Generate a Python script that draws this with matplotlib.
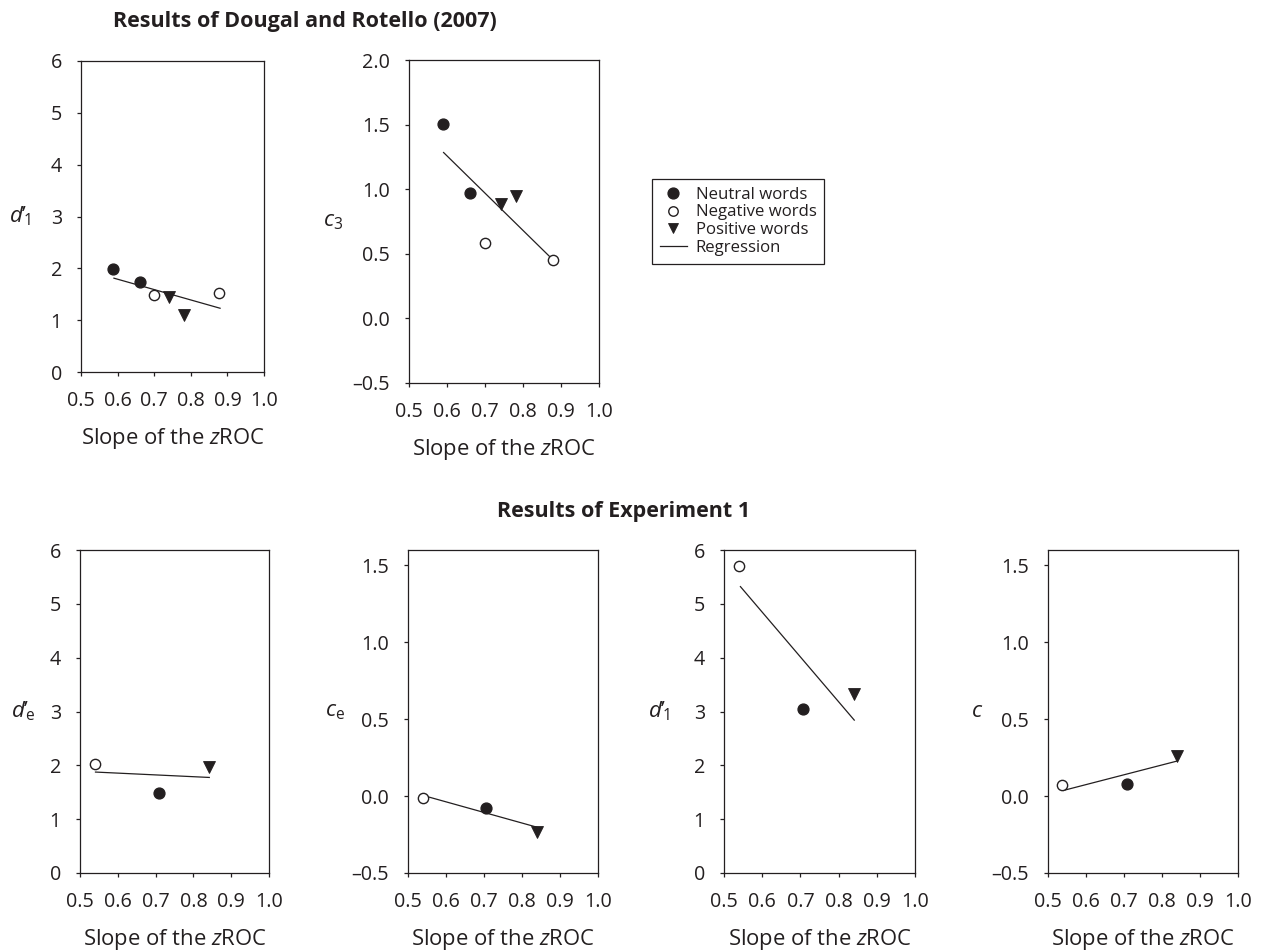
import matplotlib
matplotlib.use("Agg")
import matplotlib.pyplot as plt
from matplotlib.lines import Line2D
from matplotlib.ticker import FixedLocator, FuncFormatter

# ---------------- data ----------------
# Dougal & Rotello (2007): d'1 panel
p1_neutral_x = [0.588, 0.661]
p1_neutral_y = [1.99, 1.74]
p1_negative_x = [0.699, 0.878]
p1_negative_y = [1.48, 1.52]
p1_positive_x = [0.740, 0.781]
p1_positive_y = [1.44, 1.10]
p1_reg_x = [0.590, 0.880]
p1_reg_y = [1.81, 1.23]

# Dougal & Rotello (2007): c3 panel
p2_neutral_x = [0.589, 0.661]
p2_neutral_y = [1.505, 0.974]
p2_negative_x = [0.699, 0.880]
p2_negative_y = [0.585, 0.454]
p2_positive_x = [0.741, 0.782]
p2_positive_y = [0.885, 0.951]
p2_reg_x = [0.591, 0.878]
p2_reg_y = [1.284, 0.456]

# Experiment 1: d'e
b1_neutral_x = [0.709]
b1_neutral_y = [1.49]
b1_negative_x = [0.539]
b1_negative_y = [2.02]
b1_positive_x = [0.842]
b1_positive_y = [1.97]
b1_reg_x = [0.541, 0.842]
b1_reg_y = [1.875, 1.775]

# Experiment 1: ce
b2_neutral_x = [0.706]
b2_neutral_y = [-0.078]
b2_negative_x = [0.539]
b2_negative_y = [-0.01]
b2_positive_x = [0.839]
b2_positive_y = [-0.233]
b2_reg_x = [0.543, 0.839]
b2_reg_y = [0.002, -0.202]

# Experiment 1: d'1
b3_neutral_x = [0.708]
b3_neutral_y = [3.05]
b3_negative_x = [0.538]
b3_negative_y = [5.71]
b3_positive_x = [0.841]
b3_positive_y = [3.32]
b3_reg_x = [0.543, 0.841]
b3_reg_y = [5.32, 2.84]

# Experiment 1: c
b4_neutral_x = [0.709]
b4_neutral_y = [0.08]
b4_negative_x = [0.538]
b4_negative_y = [0.07]
b4_positive_x = [0.840]
b4_positive_y = [0.262]
b4_reg_x = [0.541, 0.840]
b4_reg_y = [0.037, 0.228]

x_ticks = [0.5, 0.6, 0.7, 0.8, 0.9, 1.0]
d_ticks = [0, 1, 2, 3, 4, 5, 6]
c3_ticks = [-0.5, 0.0, 0.5, 1.0, 1.5, 2.0]
c_ticks = [-0.5, 0.0, 0.5, 1.0, 1.5]

legend_labels = ["Neutral words", "Negative words", "Positive words", "Regression"]
title_top = "Results of Dougal and Rotello (2007)"
title_bottom = "Results of Experiment 1"
xlabel_text = r"Slope of the $\mathit{z}$ROC"

# ---------------- style ----------------
INK = "#231f20"
FONT = "Open Sans"
plt.rcParams["font.family"] = [FONT, "DejaVu Sans"]
plt.rcParams["mathtext.fontset"] = "custom"
plt.rcParams["mathtext.rm"] = FONT
plt.rcParams["mathtext.it"] = FONT + ":italic"
plt.rcParams["mathtext.bf"] = FONT + ":bold"
plt.rcParams["text.color"] = INK

W, H = 1262, 951
fig = plt.figure(figsize=(W / 100, H / 100), dpi=100)
fig.patch.set_facecolor("white")

MS = 7.8


def box(l, r, t, b):
    return [l / W, 1 - b / H, (r - l) / W, (b - t) / H]


def fmt_d(v, pos):
    return f"{int(round(v))}"


def fmt_c(v, pos):
    s = f"{v:.1f}"
    return s.replace("-", "\u2013")


def make_panel(rect, data, ylim, yticks, yfmt, ylab, ylab_off):
    ax = fig.add_axes(box(*rect))
    (nx, ny, gx, gy, px, py, rx, ry) = data
    ax.plot(rx, ry, color=INK, lw=0.9, zorder=2)
    ax.plot(nx, ny, ls="none", marker="o", ms=MS, mfc=INK, mec=INK, mew=1.0, zorder=3)
    ax.plot(gx, gy, ls="none", marker="o", ms=MS - 0.4, mfc="white", mec=INK, mew=1.0, zorder=3)
    ax.plot(px, py, ls="none", marker="v", ms=MS + 0.4, mfc=INK, mec=INK, mew=0.6, zorder=3)
    ax.set_xlim(0.5, 1.0)
    ax.set_ylim(*ylim)
    ax.xaxis.set_major_locator(FixedLocator(x_ticks))
    ax.xaxis.set_major_formatter(FuncFormatter(lambda v, p: f"{v:.1f}"))
    ax.yaxis.set_major_locator(FixedLocator(yticks))
    ax.yaxis.set_major_formatter(FuncFormatter(yfmt))
    for s in ax.spines.values():
        s.set_linewidth(0.9)
        s.set_color(INK)
    ax.tick_params(axis="both", direction="out", length=3.2, width=0.9, colors=INK,
                   labelsize=14.2, top=False, right=False)
    ax.tick_params(axis="x", pad=10.8)
    ax.tick_params(axis="y", pad=10.5)
    ax.set_facecolor("white")
    width = rect[1] - rect[0]
    height = rect[3] - rect[2]
    ax.text(ylab_off / width, 0.5, ylab, transform=ax.transAxes, ha="center",
            va="center", fontsize=16, color=INK)
    ax.text(0.5, -72 / height, xlabel_text, transform=ax.transAxes, ha="center",
            va="baseline", fontsize=15.8, color=INK)
    return ax


DPRIME = "$d\u2019_{\\!\\mathrm{%s}}$"

ax1 = make_panel((81, 264, 61, 372),
                 (p1_neutral_x, p1_neutral_y, p1_negative_x, p1_negative_y,
                  p1_positive_x, p1_positive_y, p1_reg_x, p1_reg_y),
                 (0, 6), d_ticks, fmt_d, DPRIME % "1", -61)
ax2 = make_panel((409, 599, 60, 383),
                 (p2_neutral_x, p2_neutral_y, p2_negative_x, p2_negative_y,
                  p2_positive_x, p2_positive_y, p2_reg_x, p2_reg_y),
                 (-0.5, 2.0), c3_ticks, fmt_c, "$c_{\\mathrm{3}}$", -76)
axb1 = make_panel((80, 269, 550, 873),
                  (b1_neutral_x, b1_neutral_y, b1_negative_x, b1_negative_y,
                   b1_positive_x, b1_positive_y, b1_reg_x, b1_reg_y),
                  (0, 6), d_ticks, fmt_d, DPRIME % "e", -57)
axb2 = make_panel((408, 598, 550, 873),
                  (b2_neutral_x, b2_neutral_y, b2_negative_x, b2_negative_y,
                   b2_positive_x, b2_positive_y, b2_reg_x, b2_reg_y),
                  (-0.5, 1.6), c_ticks, fmt_c, "$c_{\\mathrm{e}}$", -73)
axb3 = make_panel((724, 915, 550, 873),
                  (b3_neutral_x, b3_neutral_y, b3_negative_x, b3_negative_y,
                   b3_positive_x, b3_positive_y, b3_reg_x, b3_reg_y),
                  (0, 6), d_ticks, fmt_d, DPRIME % "1", -65)
axb4 = make_panel((1048, 1238, 550, 873),
                  (b4_neutral_x, b4_neutral_y, b4_negative_x, b4_negative_y,
                   b4_positive_x, b4_positive_y, b4_reg_x, b4_reg_y),
                  (-0.5, 1.6), c_ticks, fmt_c, "$c$", -71)

# titles
fig.text(304.5 / W, 1 - 26.7 / H, title_top, ha="center", va="baseline",
         fontsize=15.5, fontweight="bold", color=INK)
fig.text(624 / W, 1 - 517 / H, title_bottom, ha="center", va="baseline",
         fontsize=15.5, fontweight="bold", color=INK)

# legend
handles = [
    Line2D([], [], ls="none", marker="o", ms=MS, mfc=INK, mec=INK),
    Line2D([], [], ls="none", marker="o", ms=MS - 1.0, mfc="white", mec=INK, mew=1.0),
    Line2D([], [], ls="none", marker="v", ms=MS - 0.4, mfc=INK, mec=INK, mew=0.6),
    Line2D([], [], color=INK, lw=0.9),
]
leg = fig.legend(handles, legend_labels, loc="upper left",
                 bbox_to_anchor=(652 / W, 1 - 179 / H), bbox_transform=fig.transFigure,
                 borderaxespad=0, fontsize=12.1, frameon=True, fancybox=False,
                 shadow=False, framealpha=1, edgecolor=INK, handlelength=1.65,
                 handletextpad=0.5, labelspacing=0.11, borderpad=0.45)
leg.get_frame().set_linewidth(0.9)
for t in leg.get_texts():
    t.set_color(INK)

fig.savefig("out.png", dpi=100, facecolor="white")
